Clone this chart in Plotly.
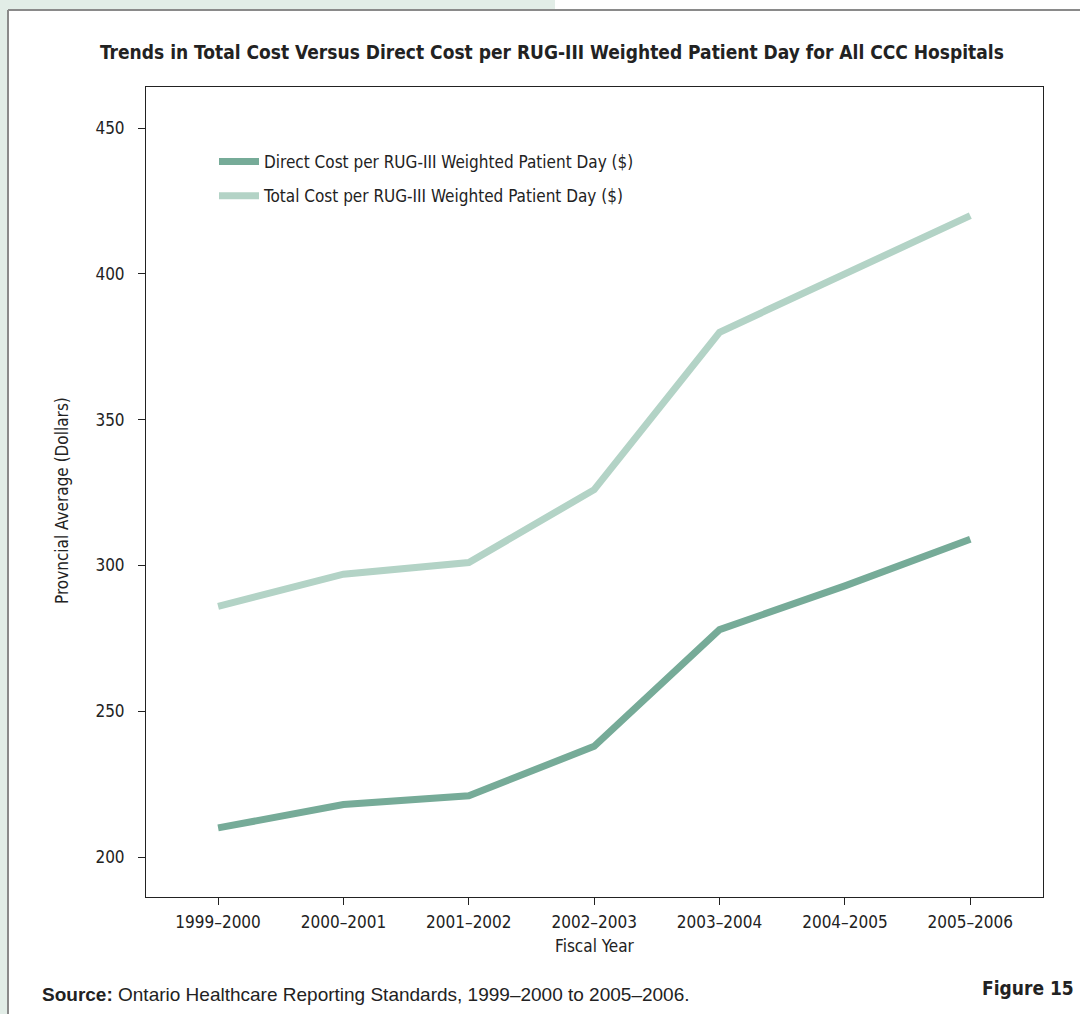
import plotly.graph_objects as go

years = ["1999–2000", "2000–2001", "2001–2002", "2002–2003", "2003–2004", "2004–2005", "2005–2006"]
direct_cost = [210, 218, 221, 238, 278, 293, 309]
total_cost = [286, 297, 301, 326, 380, 400, 420]
y_ticks = [200, 250, 300, 350, 400, 450]

NARROW = "Liberation Sans Narrow, Arial Narrow, DejaVu Sans Condensed, sans-serif"
REG = "Liberation Sans, Arial, Helvetica, sans-serif"
TXT = "#222222"

W, H = 1080, 1014
L, R, T, B = 146, 1043, 87, 897

def px(x):
    return (x - L) / (R - L)

def py(y):
    return (B - y) / (B - T)

fig = go.Figure()
fig.add_trace(go.Scatter(x=years, y=direct_cost, mode="lines", legendgroup="d",
                         name="Direct Cost per RUG-III Weighted Patient Day ($)",
                         line=dict(color="#76ab98", width=7)))
fig.add_trace(go.Scatter(x=years, y=total_cost, mode="lines", legendgroup="t",
                         name="Total Cost per RUG-III Weighted Patient Day ($)",
                         line=dict(color="#b3d3c6", width=7)))

shapes = [
    dict(type="rect", xref="paper", yref="paper", x0=px(0), x1=px(555), y0=py(10), y1=py(0),
         fillcolor="#e2ede7", line=dict(width=0), layer="below"),
    dict(type="rect", xref="paper", yref="paper", x0=px(0), x1=px(8), y0=py(W), y1=py(0),
         fillcolor="#e2ede7", line=dict(width=0), layer="below"),
    dict(type="line", xref="paper", yref="paper", x0=px(8), x1=px(1080), y0=py(10), y1=py(10),
         line=dict(color="#8a8a8a", width=2)),
    dict(type="line", xref="paper", yref="paper", x0=px(8), x1=px(8), y0=py(10), y1=py(1014),
         line=dict(color="#8a8a8a", width=2)),
]

annotations = [
    dict(text="<b>Trends in Total Cost Versus Direct Cost per RUG-III Weighted Patient Day for All CCC Hospitals</b>",
         xref="paper", yref="paper", x=px(552), y=py(52), xanchor="center", yanchor="middle",
         showarrow=False, font=dict(family=NARROW, size=19, color=TXT)),
    dict(text="<b>Source:</b> Ontario Healthcare Reporting Standards, 1999–2000 to 2005–2006.",
         xref="paper", yref="paper", x=px(40), y=py(994), xanchor="left", yanchor="middle",
         showarrow=False, font=dict(family=REG, size=19, color=TXT)),
    dict(text="<b>Figure 15</b>",
         xref="paper", yref="paper", x=px(1076), y=py(988), xanchor="right", yanchor="middle",
         showarrow=False, font=dict(family=NARROW, size=19, color=TXT)),
    dict(text="Provncial Average (Dollars)", textangle=-90,
         xref="paper", yref="paper", x=px(62), y=py(501), xanchor="center", yanchor="middle",
         showarrow=False, font=dict(family=NARROW, size=17, color=TXT)),
]

fig.update_layout(
    width=W, height=H,
    margin=dict(l=L, r=W - R, t=T, b=H - B, pad=0),
    paper_bgcolor="white", plot_bgcolor="white",
    showlegend=True,
    legend=dict(x=px(214), y=py(144), xanchor="left", yanchor="top",
                bgcolor="rgba(0,0,0,0)", font=dict(family=NARROW, size=17, color=TXT),
                traceorder="grouped", tracegroupgap=9, itemwidth=40),
    shapes=shapes, annotations=annotations,
    font=dict(family=NARROW, color=TXT),
)

fig.update_xaxes(type="category", range=[-0.575, 6.58], showgrid=False, zeroline=False,
                 showline=True, linecolor="#222", linewidth=1, mirror=True,
                 ticks="outside", ticklen=7, tickcolor="#222", ticklabelstandoff=3,
                 tickfont=dict(family=NARROW, size=17, color=TXT),
                 title=dict(text="Fiscal Year", font=dict(family=NARROW, size=17, color=TXT), standoff=8))
fig.update_yaxes(range=[186.3, 464.1], tickvals=y_ticks, showgrid=False, zeroline=False,
                 showline=True, linecolor="#222", linewidth=1, mirror=True,
                 ticks="outside", ticklen=7, tickcolor="#222", ticklabelstandoff=10,
                 tickfont=dict(family=NARROW, size=17, color=TXT))

fig.write_html("out.html")
